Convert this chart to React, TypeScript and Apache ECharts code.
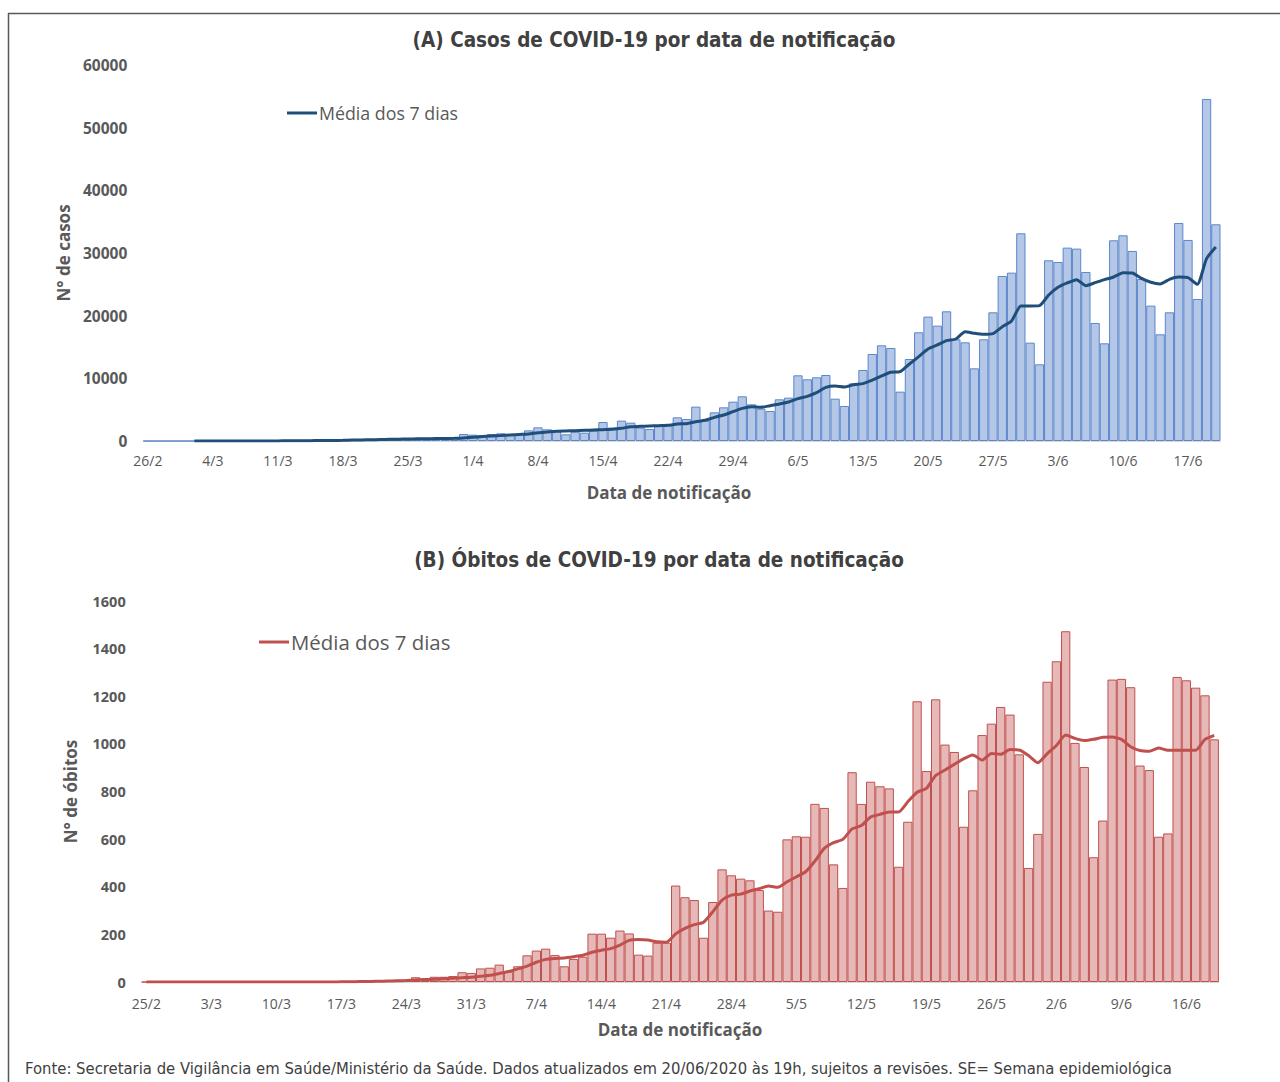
import React, { useEffect, useRef } from "react";
import * as echarts from "echarts";

// ---------- DATA ----------
function buildDays(startMonth: number, startDay: number, n: number): string[] {
  const out: string[] = [];
  const d = new Date(2020, startMonth - 1, startDay);
  for (let i = 0; i < n; i++) {
    out.push(`${d.getDate()}/${d.getMonth() + 1}`);
    d.setDate(d.getDate() + 1);
  }
  return out;
}
const casesDates = buildDays(2, 26, 116); // 26/2 .. 20/6
const deathsDates = buildDays(2, 25, 116); // 25/2 .. 19/6

const casesDaily = [
  1, 0, 0, 1, 0, 0, 1, 2, 3, 4, 8, 10, 15, 20, 30, 40, 50, 60, 80, 100, 120, 150, 180, 210, 250, 280, 300, 330, 350, 380, 400, 420, 430, 450,
  1117, 1011, 958, 1117, 1224, 1064, 1117,
  1700, 2181, 1862, 1755, 1064, 1490, 1330, 1649, 3032, 2128, 3245, 2926, 2128, 1915, 2447, 2554, 3777, 3511, 5479, 3245, 4575, 5373, 6278, 7129, 5852, 5160, 4788, 6650, 6916, 10480, 9842, 10161, 10534, 6756, 5586, 9204, 11331, 13885, 15268,
  14843, 7874, 13087, 17343, 19844, 18407, 20695, 16226, 15747, 11598, 16226, 20535, 26334, 26866, 33144, 15694, 12236, 28834, 28568, 30856, 30696, 26972, 18833, 15588, 32026, 32824, 30324, 25855, 21600, 17024, 20535, 34793, 32080, 22663, 54583, 34580,
];
const casesAvg7 = [
  null, null, null, null, null,
  1, 1, 2, 3, 4, 5, 7, 10, 14, 18, 25, 35, 45, 60, 75, 90, 110, 140, 170, 200, 230, 260, 290, 320, 340, 360, 380, 400, 420,
  480, 600, 700, 800, 880, 960, 1040, 1117,
  1330, 1436, 1543, 1596, 1649, 1702, 1756, 1809, 1862, 2022, 2288, 2341, 2394, 2447, 2500, 2713, 2766, 3086, 3298, 3777, 4150, 4682, 5214, 5480, 5373, 5639, 5905, 6224, 6756, 7129, 7714, 8565, 8778, 8618, 8991, 9150,
  9700, 10374, 10959, 11066, 12289, 13460, 14683, 15322, 16013, 16279, 17450, 17184, 17024, 17130, 18248, 19152, 21546, 21546, 21600, 23302, 24525, 25217, 25749, 24791, 25270, 25749, 26174, 26866, 26813, 25962, 25323, 25057, 25802, 26174, 26068, 25004, 29100, 30962,
];

const deathsDaily = [
  0, 0, 0, 0, 0, 0, 0, 0, 0, 0, 0, 0, 0, 0, 0, 0, 0, 0, 0, 0, 0,
  1, 3, 2, 4, 5, 7, 9, 10, 20, 14, 22, 22, 25,
  41, 38, 57, 60, 73, 43, 66,
  112, 132, 140, 113, 66, 97, 106, 203, 203, 186, 216, 204, 115, 111, 165, 165, 405, 356, 344, 186, 336, 473, 448, 434, 427, 386, 300, 295, 599, 612, 610, 748, 731, 494, 395, 881, 748, 841, 822,
  813, 484, 673, 1179, 886, 1187, 997, 966, 652, 805, 1037, 1085, 1155, 1123, 956, 479, 622, 1261, 1347, 1473, 1004, 903, 524, 678, 1270, 1273, 1238, 909, 890, 610, 624, 1281, 1267, 1236, 1204, 1019,
];
const deathsAvg7 = [
  0, 0, 0, 0, 0, 0, 0, 0, 0, 0, 0, 0, 0, 0, 0, 0, 0, 0, 0, 0, 0,
  1, 1, 2, 2, 3, 4, 5, 6, 8, 10, 12, 14, 16, 18, 20, 24, 28, 36, 44, 55,
  67, 83, 95, 99, 101, 106, 112, 125, 133, 140, 155, 175, 178, 176, 169, 167, 202, 225, 241, 251, 295, 344, 365, 369, 382, 392, 403, 398, 421, 442, 463, 508, 561, 585, 599, 643, 657, 693, 704,
  714, 714, 757, 797, 813, 867, 890, 914, 937, 953, 932, 960, 956, 976, 974, 951, 921, 958, 993, 1037, 1023, 1014, 1019, 1028, 1029, 1019, 988, 972, 969, 983, 973, 973, 973, 973, 1019, 1036,
];

const titleA = "(A) Casos de COVID-19 por data de notificação";
const titleB = "(B) Óbitos de COVID-19 por data de notificação";
const legendLabel = "Média dos 7 dias";
const xName = "Data de notificação";
const yNameA = "N° de casos";
const yNameB = "N° de óbitos";
const footer =
  "Fonte: Secretaria de Vigilância em Saúde/Ministério da Saúde. Dados atualizados em 20/06/2020 às 19h, sujeitos a revisões. SE= Semana epidemiológica";

// ---------- STYLE ----------
const TXT = "#595959";
const BASE_FONT = "'Open Sans', 'Noto Sans', sans-serif";
const COND_FONT = "'DejaVu Sans Condensed', 'Liberation Sans Narrow', 'Open Sans', sans-serif";
const BLUE_FILL = "#b4c7e7";
const BLUE_EDGE = "#5a86cc";
const BLUE_LINE = "#1f4e79";
const RED_FILL = "#e6b9b8";
const RED_EDGE = "#c0504d";
const RED_LINE = "#c0504d";

function xAxisCfg(grid: number, data: string[], margin: number) {
  return {
    type: "category",
    gridIndex: grid,
    data,
    boundaryGap: true,
    axisLine: { lineStyle: { color: "#d9d9d9", width: 1 } },
    axisTick: { interval: 6, length: 5, lineStyle: { color: "#d9d9d9" } },
    axisLabel: { interval: 6, color: TXT, fontSize: 14, fontFamily: BASE_FONT, margin },
    splitLine: { show: false },
  };
}

function yAxisCfg(grid: number, max: number, interval: number, name: string, nameGap: number, labelSize: number) {
  return {
    type: "value",
    gridIndex: grid,
    min: 0,
    max,
    interval,
    name,
    nameLocation: "middle",
    nameRotate: 90,
    nameGap,
    nameTextStyle: { color: TXT, fontSize: 17, fontWeight: "bold", fontFamily: BASE_FONT },
    axisLine: { show: false },
    axisTick: { show: false },
    splitLine: { show: false },
    axisLabel: {
      color: TXT,
      fontSize: labelSize,
      fontWeight: "bold",
      fontFamily: BASE_FONT,
      margin: 16,
      formatter: (v: number) => String(v),
    },
  };
}

export default function App() {
  const ref = useRef<HTMLDivElement>(null);
  useEffect(() => {
    if (!ref.current) return;
    const chart = echarts.init(ref.current, null, { renderer: "svg" });
    chart.setOption({
      animation: false,
      backgroundColor: "#ffffff",
      grid: [
        { left: 143.3, top: 65, width: 1077.2, height: 376 },
        { left: 141.7, top: 601, width: 1077.2, height: 381 },
      ],
      xAxis: [xAxisCfg(0, casesDates, 12), xAxisCfg(1, deathsDates, 14)],
      yAxis: [
        yAxisCfg(0, 60000, 10000, yNameA, 71, 15.5),
        yAxisCfg(1, 1600, 200, yNameB, 63, 14.5),
      ],
      series: [
        {
          type: "bar",
          name: "Casos",
          xAxisIndex: 0,
          yAxisIndex: 0,
          data: casesDaily,
          barCategoryGap: "0%",
          itemStyle: { color: BLUE_FILL, borderColor: BLUE_EDGE, borderWidth: 1 },
        },
        {
          type: "line",
          name: "Média casos",
          xAxisIndex: 0,
          yAxisIndex: 0,
          data: casesAvg7,
          symbol: "none",
          smooth: 0.2,
          lineStyle: { color: BLUE_LINE, width: 3 },
        },
        {
          type: "bar",
          name: "Óbitos",
          xAxisIndex: 1,
          yAxisIndex: 1,
          data: deathsDaily,
          barCategoryGap: "0%",
          itemStyle: { color: RED_FILL, borderColor: RED_EDGE, borderWidth: 1 },
        },
        {
          type: "line",
          name: "Média óbitos",
          xAxisIndex: 1,
          yAxisIndex: 1,
          data: deathsAvg7,
          symbol: "none",
          smooth: 0.2,
          lineStyle: { color: RED_LINE, width: 3 },
        },
      ],
      graphic: [
        { type: "line", shape: { x1: 8, y1: 13.5, x2: 1280, y2: 13.5 }, style: { stroke: "#595959", lineWidth: 1.5 } },
        { type: "line", shape: { x1: 8.5, y1: 13, x2: 8.5, y2: 1082 }, style: { stroke: "#595959", lineWidth: 1.5 } },
        {
          type: "text",
          x: 654,
          y: 40,
          style: { text: titleA, fill: "#404040", font: `bold 20.5px ${COND_FONT}`, align: "center", verticalAlign: "middle" },
        },
        {
          type: "text",
          x: 659,
          y: 560,
          style: { text: titleB, fill: "#404040", font: `bold 20.5px ${COND_FONT}`, align: "center", verticalAlign: "middle" },
        },
        {
          type: "text",
          x: 669,
          y: 492,
          style: { text: xName, fill: TXT, font: `bold 17px ${BASE_FONT}`, align: "center", verticalAlign: "middle" },
        },
        {
          type: "text",
          x: 680,
          y: 1029,
          style: { text: xName, fill: TXT, font: `bold 17px ${BASE_FONT}`, align: "center", verticalAlign: "middle" },
        },
        { type: "line", shape: { x1: 287, y1: 113, x2: 317, y2: 113 }, style: { stroke: BLUE_LINE, lineWidth: 3 } },
        {
          type: "text",
          x: 319,
          y: 113,
          style: { text: legendLabel, fill: TXT, font: `17.8px ${BASE_FONT}`, align: "left", verticalAlign: "middle" },
        },
        { type: "line", shape: { x1: 259, y1: 642, x2: 289, y2: 642 }, style: { stroke: RED_LINE, lineWidth: 3 } },
        {
          type: "text",
          x: 291,
          y: 642,
          style: { text: legendLabel, fill: TXT, font: `20.4px ${BASE_FONT}`, align: "left", verticalAlign: "middle" },
        },
        {
          type: "text",
          x: 25,
          y: 1068,
          style: { text: footer, fill: "#404040", font: `16.5px ${COND_FONT}`, align: "left", verticalAlign: "middle" },
        },
      ],
    });
    return () => chart.dispose();
  }, []);
  return (
    <div
      ref={ref}
      style={{ position: "fixed", left: 0, top: 0, width: 1280, height: 1082, background: "#fff" }}
    />
  );
}
